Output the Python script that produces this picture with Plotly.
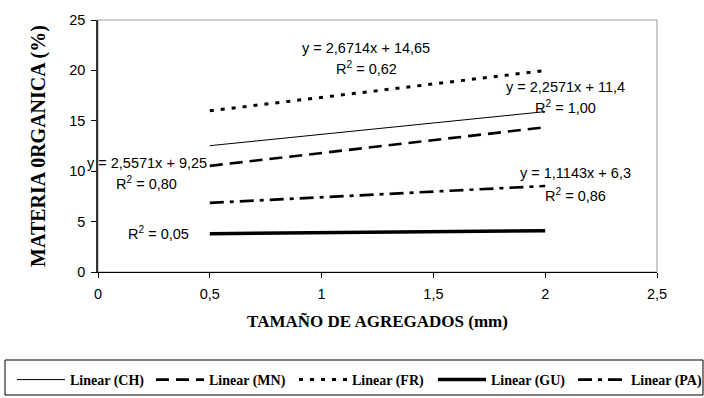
import plotly.graph_objects as go

# Data (trendline endpoints)
x_vals = [0.5, 2.0]
series_names = ["Linear (CH)", "Linear (MN)", "Linear (FR)", "Linear (GU)", "Linear (PA)"]
ch_vals = [12.53, 15.91]
mn_vals = [10.53, 14.36]
fr_vals = [15.99, 19.99]
gu_vals = [3.80, 4.10]
pa_vals = [6.86, 8.53]
x_ticks = [0, 0.5, 1, 1.5, 2, 2.5]
y_ticks = [0, 5, 10, 15, 20, 25]

styles = [
    dict(width=1, dash="solid"),
    dict(width=2.6, dash="13px,7px"),
    dict(width=3, dash="4px,7px"),
    dict(width=3.5, dash="solid"),
    dict(width=2.6, dash="14px,6px,4px,6px"),
]
legend_ids = ["legend", "legend2", "legend3", "legend4", "legend5"]
legend_px = [18, 157, 300, 439, 579]   # sample start (px)

fig = go.Figure()
for name, vals, st, lid in zip(series_names, [ch_vals, mn_vals, fr_vals, gu_vals, pa_vals], styles, legend_ids):
    fig.add_trace(go.Scatter(x=x_vals, y=vals, mode="lines", name="<b>" + name + "</b>",
                             legend=lid,
                             line=dict(color="black", width=st["width"], dash=st["dash"])))

afont = dict(family="Liberation Sans, Arial", size=14.5, color="black")
labels = [
    ("y = 2,6714x + 14,65", 1.199, 22.2),
    ("R<sup>2</sup> = 0,62", 1.199, 20.2),
    ("y = 2,2571x + 11,4", 2.093, 18.35),
    ("R<sup>2</sup> = 1,00", 2.093, 16.35),
    ("y = 2,5571x + 9,25", 0.217, 10.8),
    ("R<sup>2</sup> = 0,80", 0.217, 8.83),
    ("y = 1,1143x + 6,3", 2.135, 9.82),
    ("R<sup>2</sup> = 0,86", 2.135, 7.65),
    ("R<sup>2</sup> = 0,05", 0.27, 3.89),
]
for txt, ax, ay in labels:
    fig.add_annotation(x=ax, y=ay, text=txt, showarrow=False, font=afont,
                       xanchor="center", yanchor="middle")

# Plot-area border (grey top/right like Excel)
fig.add_shape(type="rect", xref="paper", yref="paper", x0=0, x1=1, y0=0, y1=1,
              line=dict(color="#999999", width=1), layer="below")

W, H = 704, 398
L, R, T, B = 98, 47, 20, 126
pw, ph = W - L - R, H - T - B
def px2x(p):
    return (p - L) / pw
def py2y(p):
    return 1 - (p - T) / ph

# legend box
fig.add_shape(type="rect", xref="paper", yref="paper",
              x0=px2x(5), x1=px2x(703), y0=py2y(395), y1=py2y(360),
              line=dict(color="black", width=1), layer="below")

layout_legends = {}
for lid, lx in zip(legend_ids, legend_px):
    layout_legends[lid] = dict(
        xref="container", yref="container",
        x=(lx - 6) / W, y=1 - 380 / H, xanchor="left", yanchor="middle",
        orientation="h", itemwidth=48, borderwidth=0,
        bgcolor="rgba(0,0,0,0)",
        font=dict(family="Liberation Serif, Times New Roman", size=14, color="black"),
    )

fig.update_layout(
    width=W, height=H,
    margin=dict(l=L, r=R, t=T, b=B, autoexpand=False),
    paper_bgcolor="white", plot_bgcolor="white",
    separators=",.",
    showlegend=True,
    **layout_legends,
    xaxis=dict(range=[0, 2.5], tickvals=x_ticks, showgrid=False, zeroline=False,
               showline=True, linecolor="black", linewidth=1,
               ticks="outside", ticklen=5, tickcolor="black", ticklabelstandoff=4,
               tickfont=dict(family="Liberation Sans, Arial", size=14.5, color="black"),
               title=dict(text="<b>TAMAÑO DE AGREGADOS (mm)</b>", standoff=13,
                          font=dict(family="Liberation Serif, Times New Roman", size=17, color="black"))),
    yaxis=dict(range=[0, 25], tickvals=y_ticks, showgrid=False, zeroline=False,
               showline=True, linecolor="#333333", linewidth=1.5,
               ticks="outside", ticklen=5, tickcolor="black", ticklabelstandoff=3,
               tickfont=dict(family="Liberation Sans, Arial", size=14.5, color="black"),
               title=dict(text="<b>MATERIA 0RGANICA (%)</b>", standoff=18,
                          font=dict(family="Liberation Serif, Times New Roman", size=20, color="black"))),
)

fig.write_html("out.html")
